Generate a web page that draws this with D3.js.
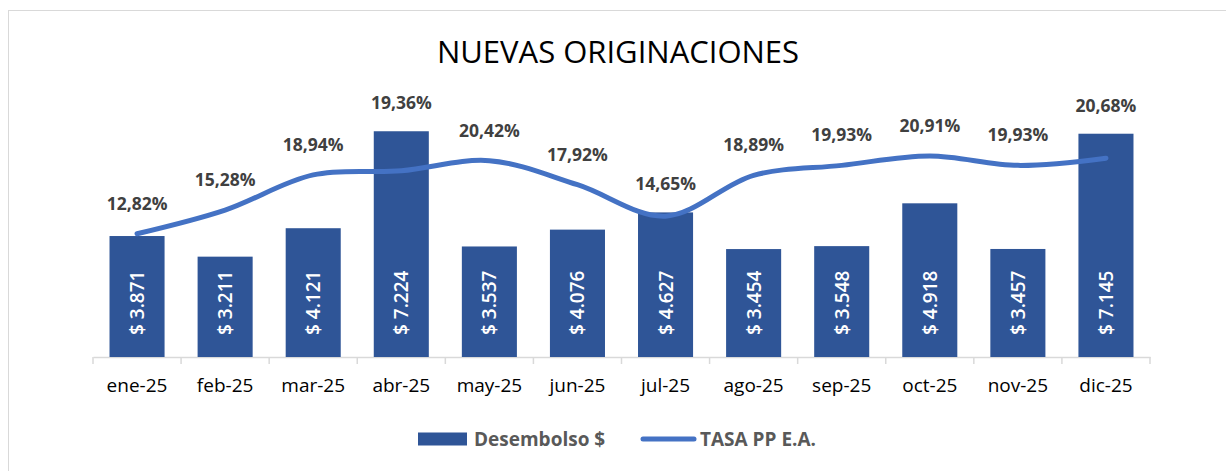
<!DOCTYPE html>
<html lang="es">
  <head>
    <meta charset="utf-8">
    <title>Nuevas Originaciones</title>
    <script src="https://cdnjs.cloudflare.com/ajax/libs/d3/7.8.5/d3.min.js"></script>
    <style>
      body { margin: 0; background: #fff; }
      text { font-family: "Open Sans", "Noto Sans", sans-serif; }
    </style>
  </head>
  <body>
    <div class="chart"></div>
    <script>
      // data
      var months = ["ene-25", "feb-25", "mar-25", "abr-25", "may-25", "jun-25",
                    "jul-25", "ago-25", "sep-25", "oct-25", "nov-25", "dic-25"];
      var desembolso = [3871, 3211, 4121, 7224, 3537, 4076, 4627, 3454, 3548, 4918, 3457, 7145];
      var tasa = [12.82, 15.28, 18.94, 19.36, 20.42, 17.92, 14.65, 18.89, 19.93, 20.91, 19.93, 20.68];
      var seriesNames = ["Desembolso $", "TASA PP E.A."];

      var svgWidth = 1226;
      var svgHeight = 471;

      var margin = { top: 107, right: 76, bottom: 114, left: 93 };
      var width = svgWidth - margin.left - margin.right;
      var height = svgHeight - margin.top - margin.bottom;

      var barColor = "#2f5597";
      var lineColor = "#4472c4";

      var svg = d3.select(".chart")
        .append("svg")
        .attr("width", svgWidth)
        .attr("height", svgHeight);

      // chart area border (runs off the right and bottom edges)
      svg.append("rect")
        .attr("x", 8.5)
        .attr("y", 10.5)
        .attr("width", 1400)
        .attr("height", 800)
        .attr("fill", "none")
        .attr("stroke", "#d9d9d9");

      svg.append("text")
        .attr("x", 618)
        .attr("y", 63)
        .attr("text-anchor", "middle")
        .attr("font-size", 31)
        .attr("fill", "#000")
        .text("NUEVAS ORIGINACIONES");

      var chartGroup = svg.append("g")
        .attr("transform", `translate(${margin.left}, ${margin.top})`);

      // scales
      var x = d3.scaleBand()
        .domain(months)
        .range([0, width])
        .paddingInner(0.375)
        .paddingOuter(0.1875);

      var yBar = d3.scaleLinear()
        .domain([0, 8000])
        .range([height, 0]);

      var yRate = d3.scaleLinear()
        .domain([0, 26])
        .range([height, 0]);

      // x axis: light gray line with ticks between categories
      var xAxis = chartGroup.append("g")
        .attr("transform", `translate(0, ${height})`)
        .call(d3.axisBottom(x).tickSize(0).tickPadding(22));
      xAxis.select(".domain").attr("stroke", "#d9d9d9").attr("stroke-width", 1.5);
      xAxis.selectAll("text")
        .attr("font-size", 19)
        .attr("fill", "#000")
        .style("font-family", "'Open Sans', sans-serif");

      var bounds = d3.range(months.length + 1).map(i => i * width / months.length);
      chartGroup.selectAll(".sep")
        .data(bounds)
        .enter()
        .append("line")
        .attr("class", "sep")
        .attr("x1", d => d)
        .attr("x2", d => d)
        .attr("y1", height)
        .attr("y2", height + 7)
        .attr("stroke", "#d9d9d9")
        .attr("stroke-width", 1.5);

      // bars
      chartGroup.selectAll(".bar")
        .data(desembolso)
        .enter()
        .append("rect")
        .attr("class", "bar")
        .attr("x", (d, i) => x(months[i]))
        .attr("y", d => yBar(d))
        .attr("width", x.bandwidth())
        .attr("height", d => height - yBar(d))
        .attr("fill", barColor);

      // rotated value labels inside bars
      chartGroup.selectAll(".barLabel")
        .data(desembolso)
        .enter()
        .append("text")
        .attr("class", "barLabel")
        .attr("transform", (d, i) =>
          `translate(${x(months[i]) + x.bandwidth() / 2 + 7}, ${height - 22}) rotate(-90)`)
        .attr("font-size", 19)
        .attr("font-weight", 600)
        .attr("fill", "#fff")
        .text(d => "$ " + d3.format(",")(d).replace(/,/g, "."));

      // smoothed rate line
      var line = d3.line()
        .x((d, i) => x(months[i]) + x.bandwidth() / 2)
        .y(d => yRate(d))
        .curve(d3.curveCatmullRom.alpha(0.5));

      chartGroup.append("path")
        .datum(tasa)
        .attr("d", line)
        .attr("fill", "none")
        .attr("stroke", lineColor)
        .attr("stroke-width", 5)
        .attr("stroke-linecap", "round");

      // rate labels sit above the line, or above the bar when the bar is taller
      chartGroup.selectAll(".rateLabel")
        .data(tasa)
        .enter()
        .append("text")
        .attr("class", "rateLabel")
        .attr("x", (d, i) => x(months[i]) + x.bandwidth() / 2)
        .attr("y", (d, i) => Math.min(yRate(d) - 30, yBar(desembolso[i]) - 28) + 6)
        .attr("text-anchor", "middle")
        .attr("font-size", 17.5)
        .attr("font-weight", 700)
        .attr("fill", "#404040")
        .text(d => d.toFixed(2).replace(".", ",") + "%");

      // legend
      var legend = svg.append("g").attr("transform", "translate(0, 439)");
      legend.append("rect")
        .attr("x", 418)
        .attr("y", -6.5)
        .attr("width", 49)
        .attr("height", 13)
        .attr("fill", barColor);
      legend.append("text")
        .attr("x", 474)
        .attr("y", 6.5)
        .attr("font-size", 19)
        .attr("font-weight", 700)
        .attr("fill", "#595959")
        .text(seriesNames[0]);
      legend.append("line")
        .attr("x1", 643)
        .attr("x2", 694)
        .attr("y1", 0)
        .attr("y2", 0)
        .attr("stroke", lineColor)
        .attr("stroke-width", 5)
        .attr("stroke-linecap", "round");
      legend.append("text")
        .attr("x", 700)
        .attr("y", 6.5)
        .attr("font-size", 19)
        .attr("font-weight", 700)
        .attr("fill", "#595959")
        .text(seriesNames[1]);
    </script>
  </body>
</html>
